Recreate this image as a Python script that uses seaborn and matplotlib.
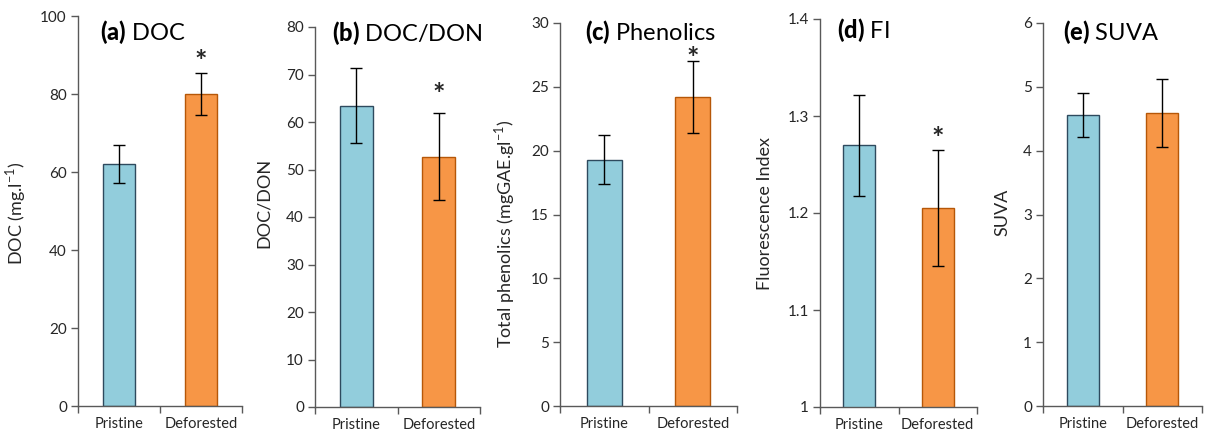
import matplotlib
matplotlib.use("Agg")
import matplotlib.pyplot as plt
import seaborn as sns
import pandas as pd

sns.set_theme(style="white")
plt.rcParams['font.family'] = ['Lato', 'DejaVu Sans']
plt.rcParams['mathtext.fontset'] = 'custom'
plt.rcParams['mathtext.rm'] = 'Lato'
plt.rcParams['mathtext.bf'] = 'Lato:black'

categories = ["Pristine", "Deforested"]

doc_vals = [62.1, 79.9]
doc_err = [4.9, 5.4]
docdon_vals = [63.4, 52.7]
docdon_err = [7.9, 9.1]
phen_vals = [19.3, 24.2]
phen_err = [1.9, 2.8]
fi_vals = [1.270, 1.205]
fi_err = [0.052, 0.060]
suva_vals = [4.56, 4.59]
suva_err = [0.34, 0.53]

titles = ["(a)", "(b)", "(c)", "(d)", "(e)"]
names = ["DOC", "DOC/DON", "Phenolics", "FI", "SUVA"]
ylabels = [r"DOC (mg.l$^{\mathregular{-1}}$)", "DOC/DON",
           r"Total phenolics (mgGAE.gl$^{\mathregular{-1}}$)",
           "Fluorescence Index", "SUVA"]
ylims = [(0, 100), (0, 80), (0, 30), (1, 1.4), (0, 6)]
yticks = [[0, 20, 40, 60, 80, 100], [0, 10, 20, 30, 40, 50, 60, 70, 80],
          [0, 5, 10, 15, 20, 25, 30], [1, 1.1, 1.2, 1.3, 1.4],
          [0, 1, 2, 3, 4, 5, 6]]
ytick_labels = [["0", "20", "40", "60", "80", "100"],
                ["0", "10", "20", "30", "40", "50", "60", "70", "80"],
                ["0", "5", "10", "15", "20", "25", "30"],
                ["1", "1.1", "1.2", "1.3", "1.4"],
                ["0", "1", "2", "3", "4", "5", "6"]]
stars = [[None, 91.0], [None, 68.0], [None, 28.05], [None, 1.288], [None, None]]
values = [doc_vals, docdon_vals, phen_vals, fi_vals, suva_vals]
errors = [doc_err, docdon_err, phen_err, fi_err, suva_err]

W, H = 1207, 432
# pixel boxes: left, right, top, bottom
boxes = [(78, 242, 16, 406), (315, 480, 27, 407), (560, 737, 23, 406),
         (820, 977, 19, 407), (1043, 1202, 23, 406)]
# right edge x of the rotated y-label, and its vertical centre
ylab_pos = [(28, 213), (272, 203), (517, 234), (773, 213), (1010, 212)]
title_pos = [(100, 32), (332, 33), (585, 32), (837, 30), (1063, 32)]
bar_widths = [0.39, 0.40, 0.40, 0.41, 0.40]

colors = ["#92CDDC", "#F79646"]
edges = ["#2E4A5E", "#B65708"]
spine_col = "#595959"
text_col = "#262626"

fig = plt.figure(figsize=(W / 100, H / 100), dpi=100)

for i in range(5):
    l, r, t, b = boxes[i]
    ax = fig.add_axes([l / W, (H - b) / H, (r - l) / W, (b - t) / H])
    df = pd.DataFrame({"site": categories, "val": values[i]})
    sns.barplot(data=df, x="site", y="val", hue="site", palette=colors,
                width=bar_widths[i], ax=ax, legend=False, errorbar=None,
                linewidth=1.0, saturation=1)
    for p, ec in zip(ax.patches, edges):
        p.set_edgecolor(ec)
    ax.errorbar([0, 1], values[i], yerr=errors[i], fmt="none",
                ecolor="black", elinewidth=1.0, capsize=4, capthick=1.0, zorder=5)
    ax.set_xlim(-0.5, 1.5)
    ax.set_ylim(*ylims[i])
    ax.set_yticks(yticks[i])
    ax.set_yticklabels(ytick_labels[i])
    ax.set_xticks([0, 1])
    ax.set_xticklabels(categories)
    ax.set_xticks([-0.5, 0.5, 1.5], minor=True)
    ax.tick_params(axis="x", which="major", length=0, pad=8, labelsize=10.5,
                   labelcolor=text_col)
    ax.tick_params(axis="x", which="minor", length=5, width=1, color=spine_col,
                   direction="out", bottom=True)
    ax.tick_params(axis="y", which="major", length=5, width=1, color=spine_col,
                   direction="out", left=True, labelsize=11, labelcolor=text_col, pad=3)
    for s in ["top", "right"]:
        ax.spines[s].set_visible(False)
    for s in ["left", "bottom"]:
        ax.spines[s].set_color(spine_col)
        ax.spines[s].set_linewidth(1.0)
    ax.set_xlabel("")
    ax.set_ylabel(ylabels[i], fontsize=13, color=text_col)
    lx, ly = ylab_pos[i]
    ax.yaxis.set_label_coords((lx - l) / (r - l), (b - ly) / (b - t))
    tx, ty = title_pos[i]
    fig.text(tx / W, (H - ty) / H, r"$\mathbf{" + titles[i] + "}$ " + names[i],
             fontsize=17, color="black", ha="left", va="center")
    for j in range(2):
        if stars[i][j] is not None:
            ax.annotate("*", xy=(j, stars[i][j]), xytext=(0, -8),
                        textcoords="offset points", fontsize=21,
                        fontweight="bold", ha="center", va="center",
                        color=text_col)

fig.savefig("out.png", dpi=100)
